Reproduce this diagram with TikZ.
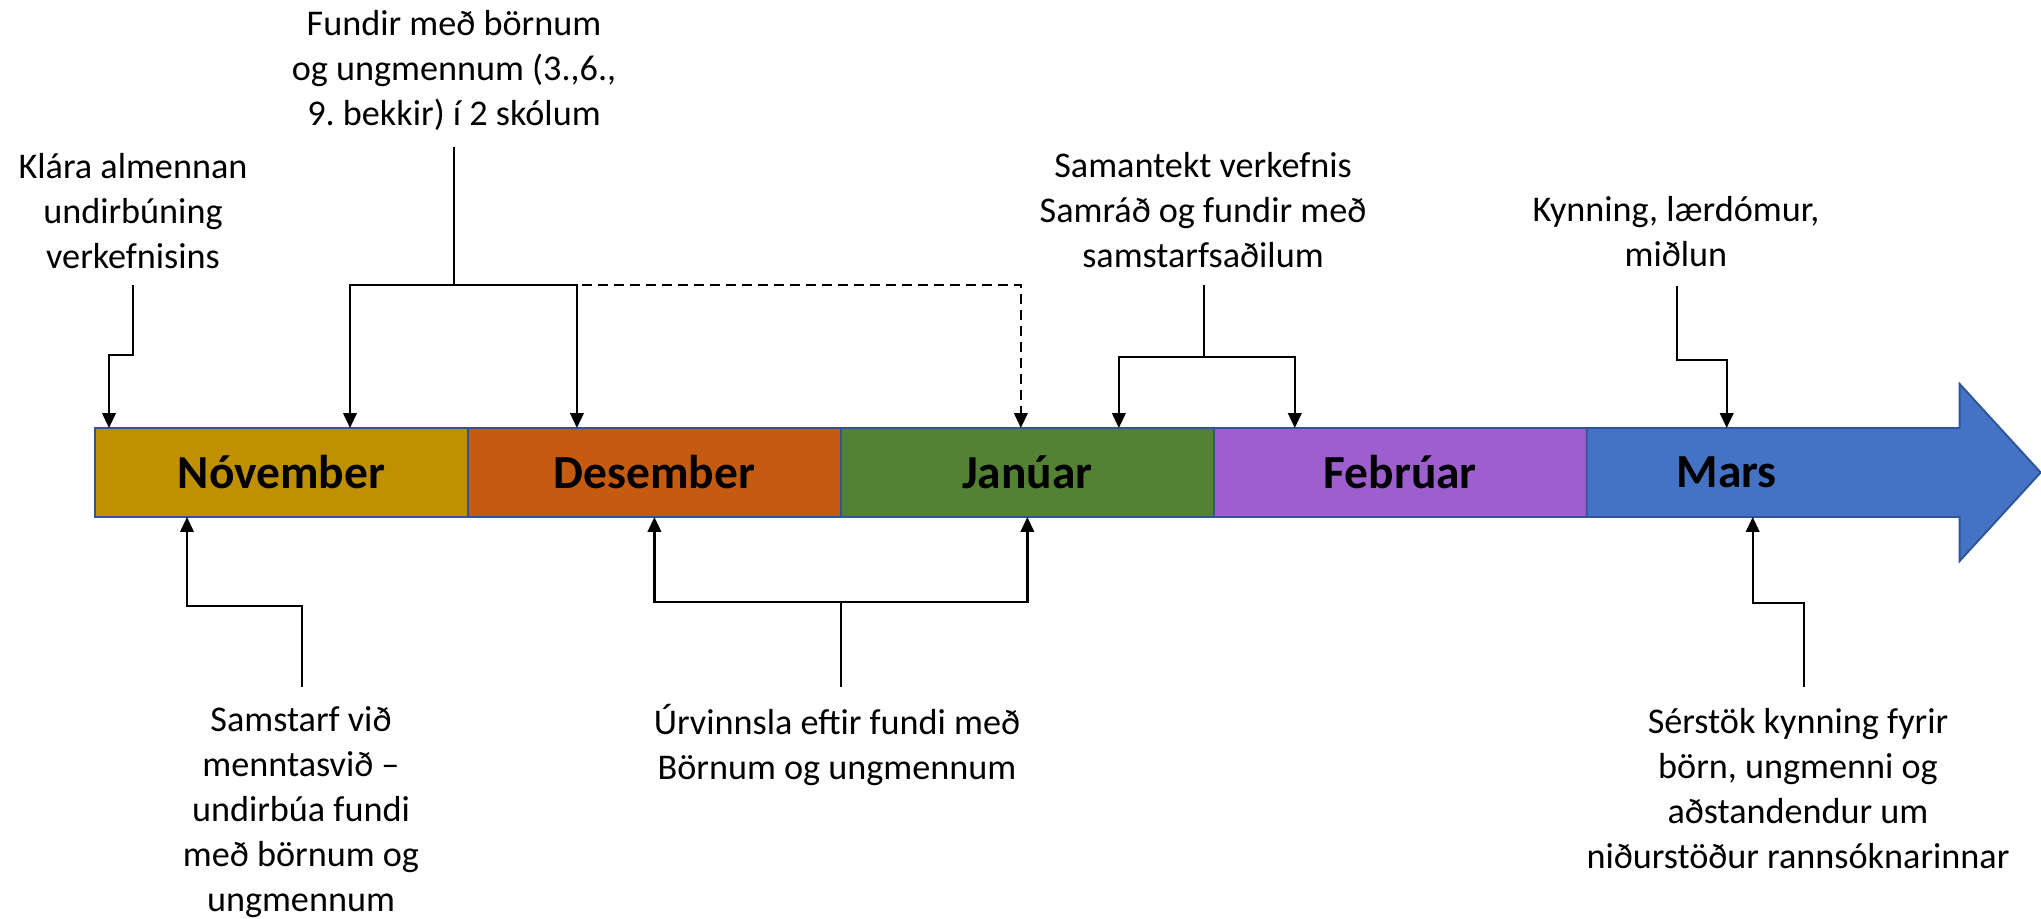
\documentclass[tikz,border=0pt]{standalone}
\usepackage{fontspec}
\setmainfont{Carlito}
\usetikzlibrary{arrows.meta,positioning,calc}
\definecolor{novfill}{HTML}{BF9000}
\definecolor{decfill}{HTML}{C55A11}
\definecolor{janfill}{HTML}{548235}
\definecolor{febfill}{HTML}{9E5FCE}
\definecolor{marfill}{HTML}{4472C4}
\definecolor{barline}{HTML}{2F5597}
\frenchspacing

\begin{document}
\begin{tikzpicture}[x=0.02cm,y=-0.02cm,>={Triangle[length=0.3cm,width=0.27cm]},
  month/.style={rectangle, draw=barline, line width=1.1pt, minimum width=7.46cm,
    minimum height=1.78cm, outer sep=0pt, inner sep=0pt,
    font=\fontsize{27}{30}\selectfont\bfseries},
  note/.style={align=center, inner sep=0pt, font=\fontsize{20.6}{25.6}\selectfont},
  conn/.style={line width=1.3pt}]
  \useasboundingbox (0,0) rectangle (2041,919);

  % the months
  \node (nov) [month, fill=novfill] at (281.5,472.5) {Nóvember};
  \node (dec) [month, fill=decfill, right=0pt of nov] {Desember};
  \node (jan) [month, fill=janfill, right=0pt of dec] {Janúar};
  \node (feb) [month, fill=febfill, right=0pt of jan] {Febrúar};
  \node (mars) [month, draw=none, fill=marfill, right=0pt of feb] {};
  \draw [draw=barline, line width=1.1pt, fill=marfill] (mars.north west) -- (mars.north east)
    -- ++(0,-44) -- ($(mars.east)+(81,0)$) -- ($(mars.south east)+(0,44)$)
    -- (mars.south east) -- (mars.south west) -- cycle;
  \node (marstext) [font=\fontsize{27}{30}\selectfont\bfseries] at ($(mars.center)+(-46.5,0)$) {Mars};

  % what happens when
  \node (klara) [note] at (133,211) {Klára almennan\\undirbúning\\verkefnisins};
  \node (fundir) [note] at (454,70) {Fundir með börnum\\og ungmennum (3.,6.,\\9. bekkir) í 2 skólum};
  \node (saman) [note] at (1203,210) {Samantekt verkefnis\\Samráð og fundir með\\samstarfsaðilum};
  \node (kynning) [note] at (1676,232) {Kynning, lærdómur,\\miðlun};
  \node (samstarf) [note] at (301,812) {Samstarf við\\menntasvið –\\undirbúa fundi\\með börnum og\\ungmennum};
  \node (urvinnsla) [note] at (837,745) {Úrvinnsla eftir fundi með\\Börnum og ungmennum};
  \node (serstok) [note] at (1798,789) {Sérstök kynning fyrir\\börn, ungmenni og\\aðstandendur um\\niðurstöður rannsóknarinnar};

  \coordinate (klaraA) at (133,285);
  \coordinate (fundirA) at (454,147);
  \coordinate (fundirB) at (454,285);
  \coordinate (samanA) at (1204,285);
  \coordinate (samanB) at (1204,357);
  \coordinate (kynA) at (1677,286);
  \coordinate (samstA) at (302,687);
  \coordinate (urvA) at (841,687);
  \coordinate (urvB) at (841,602);
  \coordinate (serA) at (1804,687);

  % arrows to the bar
  \draw [conn, ->] (klaraA) -- ++(0,70) -| ($(nov.north)+(-172.5,0)$);
  \draw [conn] (fundirA) -- (fundirB);
  \draw [conn, ->] (fundirB) -| ($(nov.north)+(68.5,0)$);
  \draw [conn, ->] (fundirB) -| ($(dec.north)+(-77.5,0)$);
  \draw [conn, dash pattern=on 0.2cm off 0.12cm, ->] (fundirB) -| ($(jan.north)+(-6.5,0)$);
  \draw [conn] (samanA) -- (samanB);
  \draw [conn, ->] (samanB) -| ($(jan.north)+(91.5,0)$);
  \draw [conn, ->] (samanB) -| ($(feb.north)+(-105.5,0)$);
  \draw [conn, ->] (kynA) -- ++(0,74) -| ($(mars.north)+(-46.5,0)$);
  \draw [conn, ->] (samstA) -- ++(0,-81) -| ($(nov.south)+(-94.5,0)$);
  \draw [conn] (urvA) -- (urvB);
  \draw [conn, ->] (urvB) -| (dec.south);
  \draw [conn, ->] (urvB) -| (jan.south);
  \draw [conn, ->] (serA) -- ++(0,-84) -| ($(mars.south)+(-20.5,0)$);
\end{tikzpicture}
\end{document}
